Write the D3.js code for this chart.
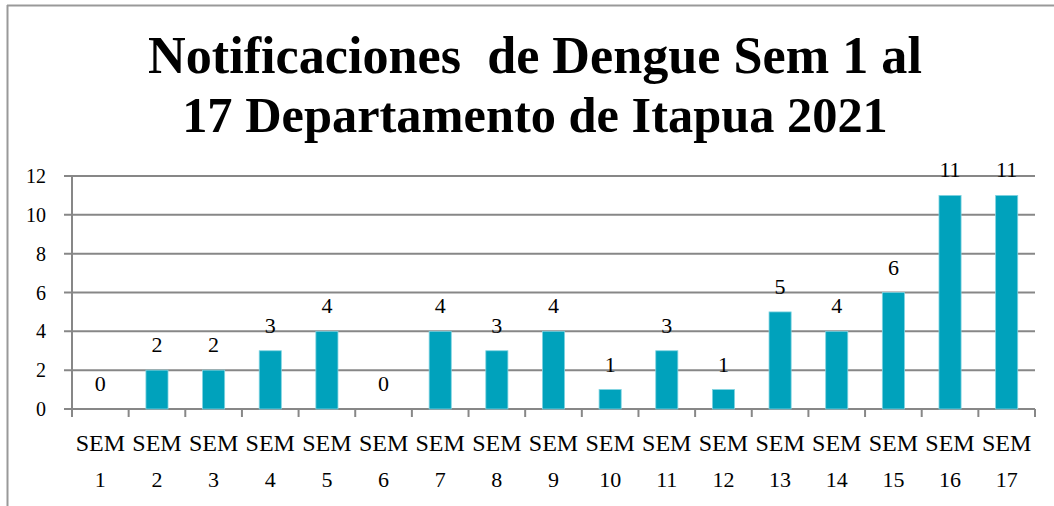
<!DOCTYPE html>
<html><head><meta charset="utf-8">
<script src="https://cdn.jsdelivr.net/npm/d3@7"></script>
</head><body style="margin:0;background:#fff">
<script>
const categories = ["1","2","3","4","5","6","7","8","9","10","11","12","13","14","15","16","17"];
const values = [0,2,2,3,4,0,4,3,4,1,3,1,5,4,6,11,11];
const yTicks = [0,2,4,6,8,10,12];
const titleLines = ["Notificaciones  de Dengue Sem 1 al", "17 Departamento de Itapua 2021"];
const titleWidths = [774, 706];

const W = 1054, H = 506;
const m = {left:72, right:1035, top:176, bottom:409};
const font = "Liberation Serif";
const svg = d3.select("body").append("svg").attr("width",W).attr("height",H)
  .style("display","block");

svg.append("line").attr("x1",7.5).attr("x2",7.5).attr("y1",5).attr("y2",H).attr("stroke","#999").attr("stroke-width",2);
svg.append("line").attr("x1",7).attr("x2",W).attr("y1",5.5).attr("y2",5.5).attr("stroke","#999").attr("stroke-width",2);

const x = d3.scaleBand().domain(categories).range([m.left,m.right]).paddingInner(0.61).paddingOuter(0.305);
const xb = d3.scaleBand().domain(categories).range([m.left,m.right]);
const y = d3.scaleLinear().domain([0,12]).range([m.bottom,m.top]);

svg.append("g").selectAll("line").data(yTicks).join("line")
  .attr("x1",m.left-8).attr("x2",m.right).attr("y1",d=>y(d)).attr("y2",d=>y(d))
  .attr("stroke","#878787").attr("stroke-width",2);
svg.append("line").attr("x1",m.left).attr("x2",m.left).attr("y1",m.top).attr("y2",m.bottom+8).attr("stroke","#878787").attr("stroke-width",2);
const xt = categories.map((c,i)=>i).concat([17]);
svg.append("g").selectAll("line").data(xt).join("line")
  .attr("x1",i=>m.left+i*xb.bandwidth()).attr("x2",i=>m.left+i*xb.bandwidth())
  .attr("y1",m.bottom).attr("y2",m.bottom+8).attr("stroke","#878787").attr("stroke-width",2);

svg.append("g").selectAll("text").data(yTicks).join("text")
  .attr("x",46).attr("y",d=>y(d)).attr("dy","0.35em").attr("text-anchor","end")
  .attr("font-family",font).attr("font-size",20).attr("fill","#000").text(d=>d);

svg.append("g").selectAll("rect").data(values).join("rect")
  .attr("x",(d,i)=>x(categories[i])).attr("width",x.bandwidth())
  .attr("y",d=>y(d)).attr("height",d=>y(0)-y(d))
  .attr("fill","#00A2BC").attr("stroke","#7fd3e0").attr("stroke-width",0.8);

svg.append("g").selectAll("text").data(values).join("text")
  .attr("x",(d,i)=>x(categories[i])+x.bandwidth()/2).attr("y",d=>y(d)-18)
  .attr("text-anchor","middle").attr("font-family",font)
  .attr("font-size",22).attr("fill","#000").text(d=>d);

const xl = svg.append("g").selectAll("text").data(categories).join("text")
  .attr("text-anchor","middle").attr("font-family",font)
  .attr("font-size",24).attr("fill","#000");
xl.append("tspan").attr("x",c=>xb(c)+xb.bandwidth()/2).attr("y",451).text("SEM");
xl.append("tspan").attr("x",c=>xb(c)+xb.bandwidth()/2).attr("y",487).attr("font-size",22).text(c=>c);

const tt = svg.append("g").selectAll("text").data(titleLines).join("text")
  .attr("x",535).attr("y",(d,i)=>73+i*59).attr("text-anchor","middle")
  .attr("font-family",font).attr("font-weight","bold").attr("font-size",48).attr("fill","#000")
  .style("white-space","pre").text(d=>d);
tt.each(function(d,i){
  const w = this.getComputedTextLength();
  d3.select(this).attr("font-size", 48*titleWidths[i]/w);
});
</script>
</body></html>
